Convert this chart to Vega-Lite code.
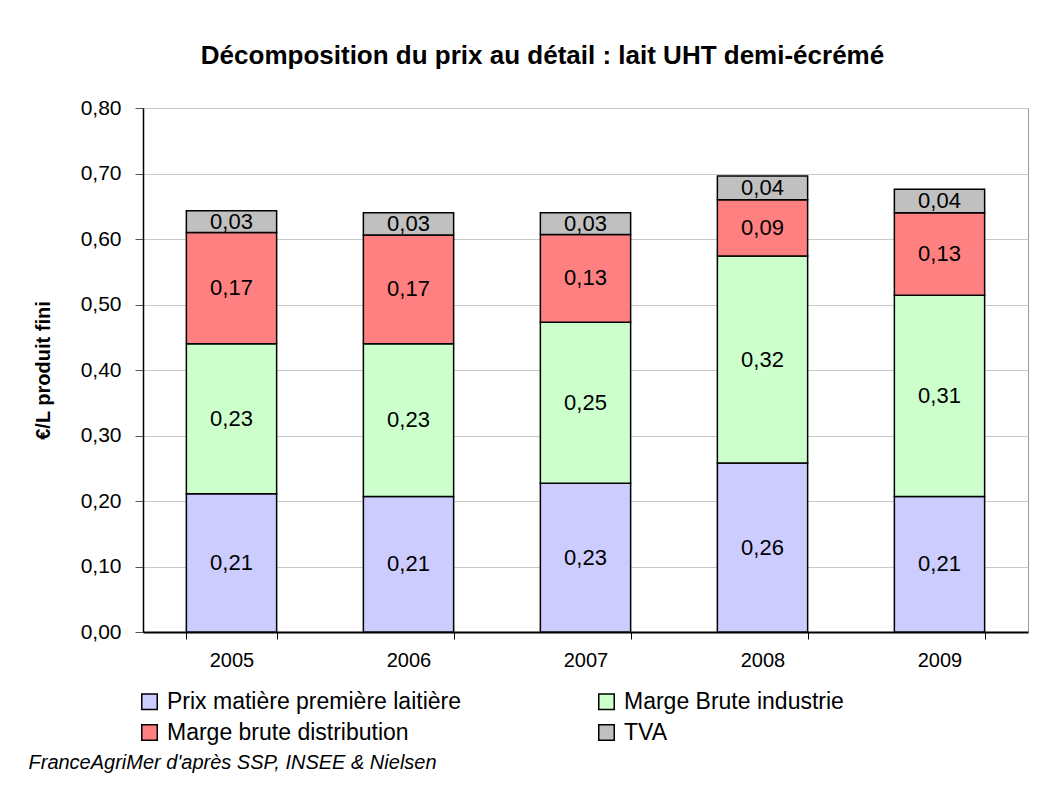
{
  "$schema": "https://vega.github.io/schema/vega-lite/v6.json",
  "autosize": {"type": "none"},
  "padding": {"left": 143, "top": 108, "right": 25, "bottom": 160},
  "width": 885,
  "height": 524,
  "background": "white",
  "title": {
    "text": "Décomposition du prix au détail : lait UHT demi-écrémé",
    "font": "Liberation Sans",
    "fontSize": 26,
    "fontWeight": "bold",
    "color": "black",
    "anchor": "middle",
    "dx": -43,
    "offset": 28
  },
  "data": {
    "values": [
      {"year": "2005", "cat": "Prix matière première laitière", "ord": 1, "v": 0.211},
      {"year": "2005", "cat": "Marge Brute industrie", "ord": 2, "v": 0.229},
      {"year": "2005", "cat": "Marge brute distribution", "ord": 3, "v": 0.170},
      {"year": "2005", "cat": "TVA", "ord": 4, "v": 0.033},
      {"year": "2006", "cat": "Prix matière première laitière", "ord": 1, "v": 0.207},
      {"year": "2006", "cat": "Marge Brute industrie", "ord": 2, "v": 0.233},
      {"year": "2006", "cat": "Marge brute distribution", "ord": 3, "v": 0.166},
      {"year": "2006", "cat": "TVA", "ord": 4, "v": 0.034},
      {"year": "2007", "cat": "Prix matière première laitière", "ord": 1, "v": 0.227},
      {"year": "2007", "cat": "Marge Brute industrie", "ord": 2, "v": 0.246},
      {"year": "2007", "cat": "Marge brute distribution", "ord": 3, "v": 0.134},
      {"year": "2007", "cat": "TVA", "ord": 4, "v": 0.033},
      {"year": "2008", "cat": "Prix matière première laitière", "ord": 1, "v": 0.258},
      {"year": "2008", "cat": "Marge Brute industrie", "ord": 2, "v": 0.316},
      {"year": "2008", "cat": "Marge brute distribution", "ord": 3, "v": 0.086},
      {"year": "2008", "cat": "TVA", "ord": 4, "v": 0.036},
      {"year": "2009", "cat": "Prix matière première laitière", "ord": 1, "v": 0.207},
      {"year": "2009", "cat": "Marge Brute industrie", "ord": 2, "v": 0.307},
      {"year": "2009", "cat": "Marge brute distribution", "ord": 3, "v": 0.126},
      {"year": "2009", "cat": "TVA", "ord": 4, "v": 0.036}
    ]
  },
  "transform": [
    {"stack": "v", "groupby": ["year"], "sort": [{"field": "ord", "order": "ascending"}], "as": ["v0", "v1"]},
    {"calculate": "(datum.v0 + datum.v1) / 2", "as": "mid"}
  ],
  "encoding": {
    "x": {
      "field": "year",
      "type": "nominal",
      "sort": null,
      "scale": {"paddingInner": 0.49, "paddingOuter": 0.245},
      "axis": {
        "title": "FranceAgriMer d'après SSP, INSEE & Nielsen",
        "titleFont": "Liberation Sans",
        "titleFontStyle": "italic",
        "titleFontWeight": "normal",
        "titleFontSize": 20,
        "titleColor": "black",
        "titleX": -115,
        "titleY": 130,
        "titleAlign": "left",
        "titleAnchor": "start",
        "titleBaseline": "middle",
        "labelAngle": 0,
        "labelFont": "Liberation Sans",
        "labelFontSize": 20,
        "labelColor": "black",
        "labelPadding": 11,
        "tickBand": "extent",
        "tickSize": 7,
        "tickColor": "black",
        "domainColor": "black",
        "domainWidth": 2,
        "grid": false
      }
    }
  },
  "layer": [
    {
      "mark": {"type": "bar", "stroke": "black", "strokeWidth": 1.5},
      "encoding": {
        "y": {
          "field": "v1",
          "type": "quantitative",
          "scale": {"domain": [0, 0.8], "nice": false},
          "axis": {
            "title": "€/L produit fini",
            "values": [0, 0.1, 0.2, 0.3, 0.4, 0.5, 0.6, 0.7, 0.8],
            "format": ".2f",
            "labelFont": "Liberation Sans",
            "labelFontSize": 21,
            "labelColor": "black",
            "labelPadding": 14,
            "tickSize": 8,
            "tickColor": "#555555",
            "domainColor": "black",
            "domainWidth": 1.5,
            "gridColor": "#c8c8c8",
            "gridWidth": 1,
            "titleFont": "Liberation Sans",
            "titleFontSize": 20,
            "titleFontWeight": "bold",
            "titleColor": "black",
            "titlePadding": 27
          }
        },
        "y2": {"field": "v0"},
        "color": {
          "field": "cat",
          "type": "nominal",
          "scale": {
            "domain": ["Prix matière première laitière", "Marge Brute industrie", "Marge brute distribution", "TVA"],
            "range": ["#CCCCFF", "#CCFFCC", "#FF8080", "#C0C0C0"]
          },
          "legend": {
            "title": null,
            "orient": "none",
            "direction": "horizontal",
            "legendX": -5,
            "legendY": 582,
            "columns": 2,
            "columnPadding": 134,
            "rowPadding": 7,
            "padding": 0,
            "symbolType": "square",
            "symbolSize": 240,
            "symbolStrokeColor": "black",
            "symbolStrokeWidth": 1.5,
            "symbolOpacity": 1,
            "labelFont": "Liberation Sans",
            "labelFontSize": 23,
            "labelColor": "black",
            "labelLimit": 0,
            "labelOffset": 6
          }
        }
      }
    },
    {
      "mark": {"type": "text", "font": "Liberation Sans", "fontSize": 22, "color": "black"},
      "encoding": {
        "y": {"field": "mid", "type": "quantitative"},
        "text": {"field": "v", "type": "quantitative", "format": ".2f"}
      }
    }
  ],
  "config": {
    "font": "Liberation Sans",
    "locale": {"number": {"decimal": ",", "thousands": " ", "grouping": [3], "currency": ["", " €"]}},
    "view": {"stroke": "#999999", "strokeWidth": 1}
  }
}
